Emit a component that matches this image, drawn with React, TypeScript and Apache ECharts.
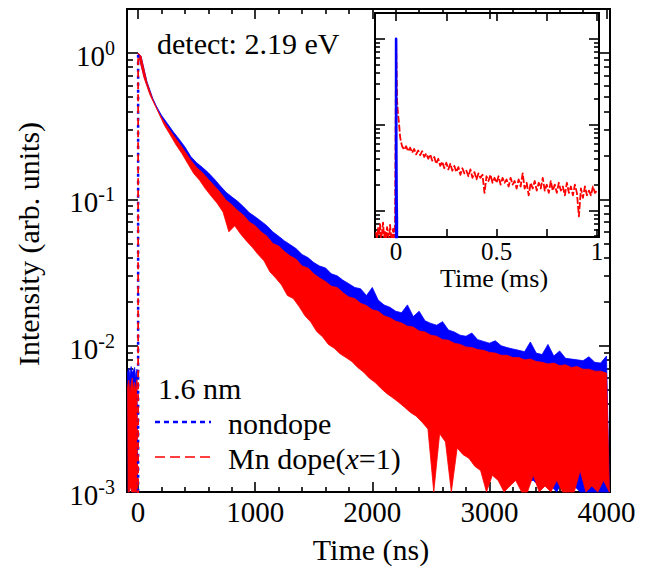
import React, { useEffect, useRef } from 'react';
import * as echarts from 'echarts';

// ---------- data ----------
// main panel: band envelopes sampled every 50 ns from 0 to 4000 ns
const BIN_NS = 50;
const blueHi = [
  1.0, 0.69, 0.53, 0.44, 0.375, 0.33, 0.29, 0.258, 0.228, 0.196,
  0.178, 0.165, 0.152, 0.138, 0.124, 0.112, 0.104, 0.097, 0.089, 0.081,
  0.076, 0.071, 0.066, 0.06, 0.056, 0.052, 0.049, 0.046, 0.042, 0.04,
  0.037, 0.035, 0.034, 0.031, 0.03, 0.028, 0.0265, 0.025, 0.0245, 0.022,
  0.025, 0.0205, 0.019, 0.0183, 0.0172, 0.0168, 0.019, 0.0158, 0.0172, 0.0148,
  0.0142, 0.0138, 0.0146, 0.0128, 0.0124, 0.0118, 0.0116, 0.0122, 0.011, 0.0107,
  0.0104, 0.0108, 0.01, 0.0097, 0.0095, 0.0093, 0.0091, 0.0106, 0.0089, 0.0087,
  0.0102, 0.0085, 0.0092, 0.0082, 0.0081, 0.008, 0.0079, 0.0084, 0.0077, 0.0076,
  0.0085,
];
const blueLo = [
  0.95, 0.64, 0.49, 0.4, 0.335, 0.29, 0.25, 0.22, 0.19, 0.165,
  0.15, 0.135, 0.12, 0.108, 0.096, 0.086, 0.078, 0.07, 0.063, 0.057,
  0.052, 0.047, 0.043, 0.039, 0.035, 0.032, 0.029, 0.026, 0.024, 0.022,
  0.02, 0.018, 0.0165, 0.015, 0.0138, 0.0126, 0.0116, 0.0106, 0.0098, 0.009,
  0.0083, 0.0076, 0.007, 0.0064, 0.0059, 0.0054, 0.005, 0.0046, 0.0042, 0.0039,
  0.0036, 0.0033, 0.003, 0.0028, 0.0026, 0.0024, 0.0022, 0.002, 0.0019, 0.0018,
  0.0017, 0.0016, 0.0015, 0.0014, 0.0013, 0.0013, 0.0012, 0.0012, 0.0011, 0.0011,
  0.0011, 0.001, 0.0012, 0.001, 0.0011, 0.0009, 0.001, 0.0009, 0.001, 0.0009,
  0.001,
];
const redHi = [
  1.0, 0.68, 0.52, 0.43, 0.36, 0.315, 0.275, 0.243, 0.212, 0.185,
  0.165, 0.152, 0.137, 0.124, 0.112, 0.099, 0.092, 0.084, 0.078, 0.07,
  0.066, 0.06, 0.056, 0.05, 0.048, 0.044, 0.041, 0.039, 0.035, 0.034,
  0.031, 0.029, 0.0275, 0.0255, 0.025, 0.023, 0.0215, 0.021, 0.0195, 0.0188,
  0.0176, 0.0172, 0.016, 0.0155, 0.0147, 0.0143, 0.0136, 0.0134, 0.0126, 0.0124,
  0.0118, 0.0116, 0.011, 0.0109, 0.0104, 0.0102, 0.0098, 0.0097, 0.0094, 0.0093,
  0.009, 0.0089, 0.0086, 0.0086, 0.0083, 0.0083, 0.008, 0.0081, 0.0078, 0.0077,
  0.0075, 0.0076, 0.0073, 0.0074, 0.0071, 0.0072, 0.0069, 0.0069, 0.0067, 0.0067,
  0.0065,
];
const redLo = [
  0.95, 0.63, 0.48, 0.39, 0.32, 0.275, 0.235, 0.205, 0.175, 0.15,
  0.135, 0.118, 0.105, 0.094, 0.082, 0.06, 0.066, 0.058, 0.052, 0.047,
  0.042, 0.038, 0.032, 0.029, 0.026, 0.022, 0.021, 0.0185, 0.016, 0.0145,
  0.0125, 0.0115, 0.0102, 0.0096, 0.0088, 0.0083, 0.0078, 0.0071, 0.0066, 0.006,
  0.0056, 0.0051, 0.0047, 0.0044, 0.0041, 0.0038, 0.0035, 0.0033, 0.003, 0.0027,
  0.0008, 0.0025, 0.0022, 0.0008, 0.002, 0.0018, 0.0017, 0.0015, 0.0014, 0.0008,
  0.0013, 0.0012, 0.0008, 0.0011, 0.0012, 0.0008, 0.001, 0.0013, 0.0008, 0.0011,
  0.0008, 0.0012, 0.0008, 0.001, 0.0008, 0.0014, 0.0008, 0.0011, 0.0008, 0.0012,
  0.0008,
];
// background before the excitation pulse (ns)
const preT = [-90, -80, -70, -60, -50, -40, -30, -20, -10];
const preRedHi = [0.0052, 0.0058, 0.0047, 0.0055, 0.006, 0.005, 0.0056, 0.0049, 0.0059];
const preRedLo = [0.0009, 0.0008, 0.0011, 0.0008, 0.001, 0.0008, 0.0009, 0.0008, 0.0008];
const preBlueHi = [0.0066, 0.007, 0.0062, 0.0072, 0.0065, 0.0068, 0.0071, 0.006, 0.0069];
const preBlueLo = [0.001, 0.0009, 0.0012, 0.0009, 0.0011, 0.0009, 0.001, 0.0009, 0.0009];

// inset (ms)
const insetPreT = [-0.1, -0.095, -0.09, -0.085, -0.08, -0.075, -0.07, -0.065, -0.06, -0.055,
  -0.05, -0.045, -0.04, -0.035, -0.03, -0.025, -0.02, -0.015, -0.01, -0.005];
const insetPreRed = [0.0056, 0.0046, 0.0062, 0.0051, 0.0069, 0.0047, 0.0055, 0.0072, 0.0049, 0.0058,
  0.0045, 0.0064, 0.0052, 0.0047, 0.0068, 0.005, 0.0044, 0.0061, 0.0048, 0.0073];
const insetEarlyT = [0.005, 0.01, 0.015, 0.02, 0.025, 0.03];
const insetEarlyRed = [0.19, 0.13, 0.1, 0.072, 0.062, 0.056];
const INSET_STEP = 0.01; // 0.04 .. 1.00 ms
const insetLateRed = [
  0.051, 0.056, 0.049, 0.054, 0.047, 0.052, 0.045, 0.05, 0.044, 0.049,
  0.042, 0.046, 0.04, 0.045, 0.038, 0.042, 0.035, 0.04, 0.033, 0.037,
  0.031, 0.036, 0.03, 0.035, 0.029, 0.033, 0.028, 0.032, 0.026, 0.031,
  0.027, 0.029, 0.025, 0.03, 0.024, 0.028, 0.023, 0.027, 0.024, 0.026,
  0.016, 0.025, 0.022, 0.026, 0.021, 0.024, 0.021, 0.025, 0.02, 0.024,
  0.021, 0.023, 0.019, 0.024, 0.02, 0.022, 0.018, 0.023, 0.019, 0.027,
  0.018, 0.021, 0.015, 0.021, 0.018, 0.022, 0.017, 0.021, 0.018, 0.024,
  0.017, 0.02, 0.016, 0.022, 0.017, 0.02, 0.016, 0.021, 0.017, 0.019,
  0.015, 0.021, 0.016, 0.019, 0.015, 0.02, 0.016, 0.0085, 0.018, 0.014,
  0.019, 0.015, 0.017, 0.015, 0.019, 0.016, 0.017,
];

const mainXLabels = [0, 1000, 2000, 3000, 4000];
const mainXMinor = [200, 400, 600, 800, 1200, 1400, 1600, 1800, 2200, 2400, 2600, 2800, 3200, 3400, 3600, 3800];
const mainDecades = [0.001, 0.01, 0.1, 1];
const insetDecades = [0.01, 0.1, 1];
const insetXTicks = [0, 0.25, 0.5, 0.75, 1];
const insetXLabels = [0, 0.5, 1];

// ---------- helpers ----------
const FONT = "'Liberation Serif', 'Times New Roman', serif";
const BLUE = '#0000ff';
const RED = '#ff0000';

function minorLog(decades: number[], lo: number, hi: number) {
  const out: number[] = [];
  decades.concat([decades[decades.length - 1] * 10]).forEach((d) => {
    for (let k = 2; k <= 9; k++) {
      const v = +(k * d / 10).toPrecision(3);
      if (v > lo && v < hi) out.push(v);
    }
  });
  return out;
}

function zigzag(ts: number[], hi: number[], lo: number[], half: number, scale = 1) {
  const out: number[][] = [];
  ts.forEach((t, i) => {
    out.push([t * scale, hi[i]]);
    out.push([(t + half) * scale, lo[i]]);
  });
  return out;
}

const bandT = blueHi.map((_, i) => i * BIN_NS);
const insetLateT = insetLateRed.map((_, i) => +(0.04 + i * INSET_STEP).toFixed(3));

function tickAxis(base: any, position: string, values: number[], length: number, label?: any) {
  return {
    ...base,
    position,
    splitLine: { show: false },
    axisLine: { show: false, onZero: false },
    axisTick: { show: true, inside: true, length, customValues: values, lineStyle: { color: '#000', width: 1.6 } },
    axisLabel: label ? label : { show: false },
  };
}

// filled noise band between the upper and lower envelope, drawn through the axes' scales
function bandSeries(name: string, ts: number[], hi: number[], lo: number[], half: number, color: string, z: number) {
  return {
    type: 'custom', name, coordinateSystem: 'cartesian2d', xAxisIndex: 0, yAxisIndex: 0, silent: true, z,
    data: [[ts[0], hi[0]]],
    renderItem: (params: any, api: any) => {
      const cs = params.coordSys;
      const clampPt = (p: number[]) => [
        Math.min(Math.max(p[0], cs.x), cs.x + cs.width),
        Math.min(Math.max(p[1], cs.y), cs.y + cs.height),
      ];
      const top = ts.map((t, i) => clampPt(api.coord([t, hi[i]])));
      const bottom = ts.map((t, i) => clampPt(api.coord([t + half, lo[i]]))).reverse();
      return { type: 'polygon', shape: { points: top.concat(bottom) }, style: { fill: color, stroke: color, lineWidth: 0.8 } };
    },
  };
}

export default function App() {
  const ref = useRef<HTMLDivElement>(null);
  useEffect(() => {
    const chart = echarts.init(ref.current!, null, { renderer: 'svg' });

    const mainX = { gridIndex: 0, type: 'value', min: -95, max: 4030 };
    const mainY = { gridIndex: 0, type: 'log', logBase: 10, min: 0.001, max: 2 };
    const insX = { gridIndex: 1, type: 'value', min: -0.105, max: 1.01 };
    const insY = { gridIndex: 1, type: 'log', logBase: 10, min: 0.0049, max: 2 };
    const mainMinorY = minorLog(mainDecades, 0.001, 2);
    const insMinorY = minorLog(insetDecades, 0.0049, 2);

    const supRich = {
      b: { fontSize: 29, fontFamily: FONT, color: '#000', padding: [6, 0, 0, 0] },
      s: { fontSize: 20, fontFamily: FONT, color: '#000', padding: [0, 0, 10, 0] },
    };

    const riseBlue = [[0, preBlueLo[preBlueLo.length - 1]], [0, blueHi[0]]];
    const riseRed = [[0, preRedLo[preRedLo.length - 1]], [0, redHi[0]]];

    const insetBlue = [[0, preBlueLo[preBlueLo.length - 1]], ...zigzag(bandT, blueHi, blueLo, BIN_NS / 2, 1e-6)];
    const insetRed = [
      ...insetPreT.map((t, i) => [t, insetPreRed[i]]),
      [0, redHi[0]],
      ...insetEarlyT.map((t, i) => [t, insetEarlyRed[i]]),
      ...insetLateT.map((t, i) => [t, insetLateRed[i]]),
    ];

    const lineSeries = (name: string, xi: number, yi: number, data: any, style: any, z = 2) => ({
      name, type: 'line', xAxisIndex: xi, yAxisIndex: yi, data, symbol: 'none', showSymbol: false,
      clip: true, silent: true, z, lineStyle: { join: 'round', ...style }, emphasis: { disabled: true },
    });

    const option: any = {
      animation: false,
      backgroundColor: '#fff',
      grid: [
        { left: 127, top: 9, width: 483, height: 483, show: true, borderColor: '#000', borderWidth: 2, backgroundColor: 'transparent' },
        { left: 375, top: 13, width: 224, height: 224, show: true, borderColor: '#000', borderWidth: 2, backgroundColor: '#fff' },
      ],
      xAxis: [
        tickAxis(mainX, 'bottom', mainXLabels, 10, {
          show: true, customValues: mainXLabels, fontFamily: FONT, fontSize: 29, color: '#000', margin: 5,
          formatter: (v: number) => String(v),
        }),
        tickAxis(mainX, 'bottom', mainXMinor, 5),
        tickAxis(mainX, 'top', mainXLabels, 10),
        tickAxis(mainX, 'top', mainXMinor, 5),
        tickAxis(insX, 'bottom', insetXTicks, 8, {
          show: true, customValues: insetXLabels, fontFamily: FONT, fontSize: 25, color: '#000', margin: 3,
          lineHeight: 22, formatter: (v: number) => String(v),
        }),
        tickAxis(insX, 'top', insetXTicks, 8),
      ],
      yAxis: [
        tickAxis(mainY, 'left', mainDecades, 11, {
          show: true, customValues: mainDecades, margin: 12,
          formatter: (v: number) => `{b|10}{s|${Math.round(Math.log10(v))}}`,
          rich: supRich,
        }),
        tickAxis(mainY, 'left', mainMinorY, 6),
        tickAxis(mainY, 'right', mainDecades, 11),
        tickAxis(mainY, 'right', mainMinorY, 6),
        tickAxis(insY, 'left', insetDecades, 10),
        tickAxis(insY, 'left', insMinorY, 5),
        tickAxis(insY, 'right', insetDecades, 10),
        tickAxis(insY, 'right', insMinorY, 5),
      ],
      series: [
        // main panel
        bandSeries('nondope-pre', preT, preBlueHi, preBlueLo, 5, BLUE, 2),
        bandSeries('nondope', bandT, blueHi, blueLo, BIN_NS / 2, BLUE, 2),
        bandSeries('Mn-pre', preT, preRedHi, preRedLo, 5, RED, 3),
        bandSeries('Mn dope', bandT, redHi, redLo, BIN_NS / 2, RED, 3),
        lineSeries('nondope-rise', 0, 0, riseBlue, { color: BLUE, width: 2.5, type: [3, 4] }, 4),
        lineSeries('Mn-rise', 0, 0, riseRed, { color: RED, width: 1.8, type: [7, 5], dashOffset: 3 }, 5),
        // inset
        lineSeries('inset-Mn', 4, 4, insetRed, { color: RED, width: 1.8, type: [7, 2] }, 6),
        lineSeries('inset-nondope', 4, 4, insetBlue, { color: BLUE, width: 2.6 }, 7),
      ],
      graphic: [
        { type: 'text', x: 157, y: 43, z: 20, style: { text: 'detect: 2.19 eV', fontFamily: FONT, fontSize: 30, fill: '#000', align: 'left', verticalAlign: 'middle' } },
        { type: 'text', x: 158, y: 388, z: 20, style: { text: '1.6 nm', fontFamily: FONT, fontSize: 30, fill: '#000', align: 'left', verticalAlign: 'middle' } },
        { type: 'line', z: 20, shape: { x1: 155, y1: 422, x2: 211, y2: 422 }, style: { stroke: BLUE, lineWidth: 2.5, lineDash: [5, 4] } },
        { type: 'text', x: 228, y: 423, z: 20, style: { text: 'nondope', fontFamily: FONT, fontSize: 30, fill: '#000', align: 'left', verticalAlign: 'middle' } },
        { type: 'line', z: 20, shape: { x1: 155, y1: 457, x2: 211, y2: 457 }, style: { stroke: RED, lineWidth: 1.5, lineDash: [10, 5] } },
        {
          type: 'text', x: 228, y: 458, z: 20,
          style: {
            text: '{a|Mn dope(}{i|x}{a|=1)}', align: 'left', verticalAlign: 'middle',
            rich: {
              a: { fontFamily: FONT, fontSize: 30, fill: '#000' },
              i: { fontFamily: FONT, fontSize: 30, fill: '#000', fontStyle: 'italic' },
            },
          },
        },
        { type: 'text', x: 371, y: 549, z: 20, style: { text: 'Time (ns)', fontFamily: FONT, fontSize: 30, fill: '#000', align: 'center', verticalAlign: 'middle' } },
        { type: 'text', x: 28, y: 244, rotation: Math.PI / 2, z: 20, style: { text: 'Intensity (arb. units)', fontFamily: FONT, fontSize: 30, fill: '#000', align: 'center', verticalAlign: 'middle' } },
        { type: 'text', x: 494, y: 278, z: 20, style: { text: 'Time (ms)', fontFamily: FONT, fontSize: 26, fill: '#000', align: 'center', verticalAlign: 'middle' } },
      ],
    };
    chart.setOption(option);
    return () => chart.dispose();
  }, []);
  return <div ref={ref} style={{ position: 'fixed', left: 0, top: 0, width: 645, height: 570, background: '#fff' }} />;
}
